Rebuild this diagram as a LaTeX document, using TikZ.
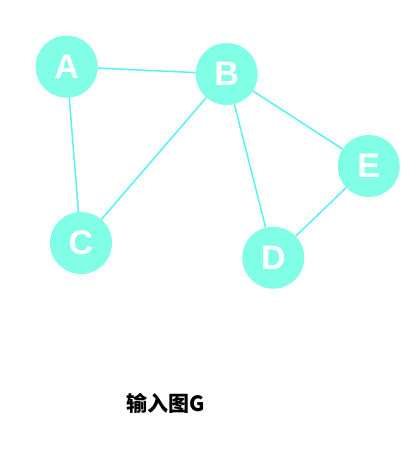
\documentclass[tikz,border=0pt]{standalone}
\usepackage{fontspec}
\setmainfont{Liberation Sans}
\newfontfamily\cjk{Noto Sans CJK SC}
\definecolor{vertexfill}{HTML}{80FFE6}
\definecolor{edgecol}{HTML}{55F2F5}

\begin{document}
\begin{tikzpicture}
	[x=1pt,y=-1pt,
		vertex/.style={circle,fill=vertexfill,inner sep=0pt,minimum size=62pt,
		text=white,font=\fontsize{34}{34}\selectfont\bfseries},
		edge/.style={draw=edgecol,line width=1.5pt}]
	\useasboundingbox (0,0) rectangle (417,469);

	\node (A) at (66.7,66.7) [vertex] {A};
	\node (B) at (226.7,74) [vertex] {B};
	\node (C) at (81,243) [vertex] {C};
	\node (D) at (273.3,257.7) [vertex] {D};
	\node (E) at (368.7,166) [vertex] {E};
	\draw[edge] (A) -- (B);
	\draw[edge] (A) -- (C);
	\draw[edge] (B) -- (C);
	\draw[edge] (B) -- (D);
	\draw[edge] (B) -- (E);
	\draw[edge] (E) -- (D);

	\node (caption) at (166,403) {\cjk\bfseries\fontsize{21}{21}\selectfont 输入图G};
\end{tikzpicture}
\end{document}
